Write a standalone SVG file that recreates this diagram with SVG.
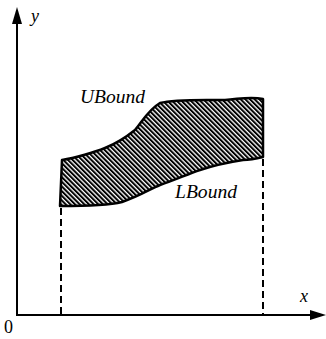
<svg xmlns="http://www.w3.org/2000/svg" width="326" height="339" viewBox="0 0 326 339">
<style>
.ax{stroke:#000;stroke-width:2;fill:none}
.dash{stroke:#000;stroke-width:2;stroke-dasharray:7,4;fill:none}
.lbl{font-family:"Liberation Serif",serif;font-style:italic;font-size:18px;fill:#000}
.num{font-family:"Liberation Serif",serif;font-size:18px;fill:#000}
</style>
<defs>
<pattern id="hatch" patternUnits="userSpaceOnUse" width="3.3" height="3.3" patternTransform="rotate(-45)">
<rect width="3.3" height="3.3" fill="#fff"/>
<line x1="1" y1="0" x2="1" y2="3.3" stroke="#000" stroke-width="2"/>
</pattern>
</defs>
<g id="axes">
<line class="ax" x1="17" y1="315" x2="17" y2="22"/>
<polygon points="17,7 12,24 22,24" fill="#000"/>
<line class="ax" x1="16" y1="315" x2="312" y2="315"/>
<polygon points="326,315 310,310 310,320" fill="#000"/>
<text class="lbl" x="31" y="22">y</text>
<text class="lbl" x="300" y="302">x</text>
<text class="num" x="4" y="333">0</text>
</g>
<g id="connectors">
<line class="dash" x1="61" y1="208" x2="61" y2="315"/>
<line class="dash" x1="263" y1="159" x2="263" y2="315"/>
</g>
<g id="region">
<path d="M62,160 C75,158 95,152 105,148 C115,144 125,138 135,130 C142,122 148,110 160,103 C175,99 200,100 225,100 C240,99 250,96 263,99 L263,157 C255,159 250,160 243,160 C230,162 215,165 200,170 C188,174 175,180 160,185 C150,189 140,196 122,202 C110,205 90,206 60,206 Z" fill="url(#hatch)" stroke="#000" stroke-width="2.5" stroke-linejoin="round"/>
</g>
<g id="ubound"><text class="lbl" x="80" y="103" textLength="65" lengthAdjust="spacingAndGlyphs">UBound</text></g>
<g id="lbound"><text class="lbl" x="175" y="198" textLength="62" lengthAdjust="spacingAndGlyphs">LBound</text></g>
</svg>
